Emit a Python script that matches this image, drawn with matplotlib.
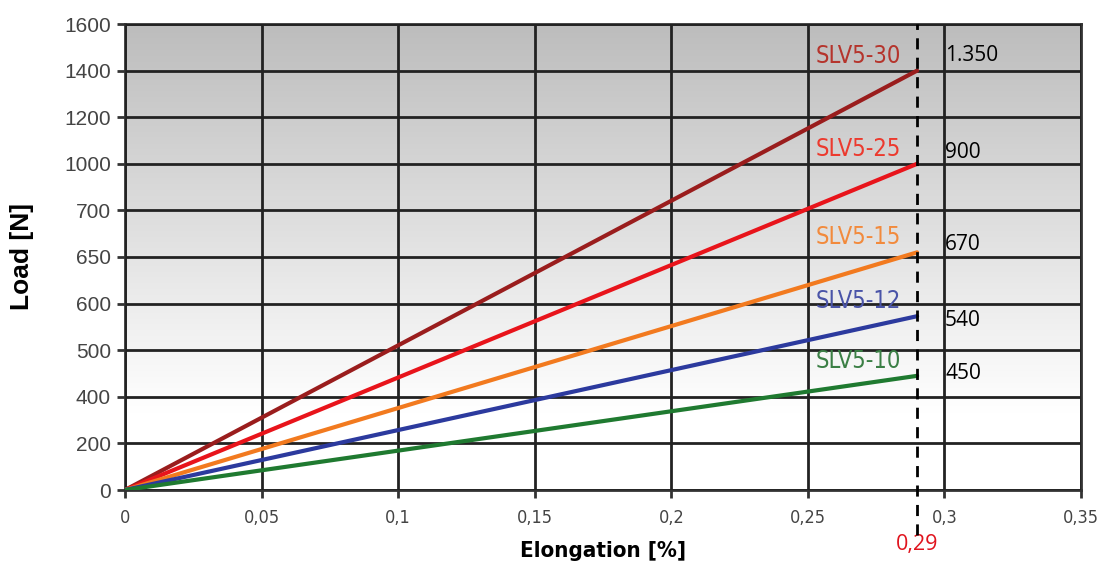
import numpy as np
import matplotlib
matplotlib.use("Agg")
from matplotlib import pyplot as plt
from matplotlib import transforms

# data
load_ticks = [0, 200, 400, 500, 600, 650, 700, 1000, 1200, 1400, 1600]
x_ticks = [0, 0.05, 0.1, 0.15, 0.2, 0.25, 0.3, 0.35]
x_ticklabels = ['0', '0,05', '0,1', '0,15', '0,2', '0,25', '0,3', '0,35']
series = ['SLV5-30', 'SLV5-25', 'SLV5-15', 'SLV5-12', 'SLV5-10']
elong = [0, 0.29]
end_load = [1400, 1000, 655, 573, 445]
value_labels = ['1.350', '900', '670', '540', '450']
colors = ['#9a1d1d', '#e8141b', '#f27a1f', '#2c3a9e', '#1f7a30']
label_colors = ['#b5342c', '#ec3a2e', '#f28a3c', '#4a54a8', '#3b7f45']

pos = np.arange(len(load_ticks))


def fwd(y):
    return np.interp(y, load_ticks, pos)


def inv(p):
    return np.interp(p, pos, load_ticks)


fig = plt.figure(figsize=(11, 5.67), dpi=100)
ax = fig.add_axes([125 / 1100, 1 - 490 / 567, 956 / 1100, 466 / 567])
ax.set_yscale('function', functions=(fwd, inv))
ax.set_xlim(0, 0.35)
ax.set_ylim(0, 1600)

# background gradient, grey at the top fading to white near the bottom
grad = np.linspace(0, 1, 256).reshape(-1, 1)
shade = np.clip(grad * 1.2, 0, 1)
bg = 0.74 + (1 - 0.74) * shade
ax.imshow(np.dstack([bg, bg, bg]), extent=[0, 1, 0, 1], transform=ax.transAxes,
          aspect='auto', origin='upper', zorder=0)

ax.set_yticks(load_ticks)
ax.set_yticklabels([str(v) for v in load_ticks])
ax.set_xticks(x_ticks)
ax.set_xticklabels(x_ticklabels)
ax.grid(True, color='#222222', linewidth=2, zorder=1)
ax.set_axisbelow(False)
for s in ax.spines.values():
    s.set_color('#333333')
    s.set_linewidth(2)
ax.tick_params(direction='out', length=6, width=2, color='#333333', labelcolor='#444444')
ax.tick_params(axis='y', labelsize=15, pad=4)
ax.tick_params(axis='x', labelsize=13, pad=8)
for lab in ax.get_yticklabels():
    lab.set_fontfamily('Liberation Sans')
for lab in ax.get_xticklabels():
    lab.set_fontfamily('DejaVu Sans')
    lab.set_fontstretch('condensed')

val_dy = [15, 11, 8, -4, 2]
for name, yend, c, lc, vl, dy in zip(series, end_load, colors, label_colors, value_labels, val_dy):
    ax.plot(elong, [0, yend], color=c, linewidth=3, solid_capstyle='round', zorder=3)
    ax.annotate(name, (elong[1], yend), xytext=(-16, 3), textcoords='offset pixels',
                ha='right', va='bottom', color=lc, fontsize=17,
                family='DejaVu Sans', fontstretch='condensed')
    ax.annotate(vl, (elong[1], yend), xytext=(28, dy), textcoords='offset pixels',
                ha='left', va='center', color='black', fontsize=15,
                family=['Open Sans', 'DejaVu Sans'], annotation_clip=False)

trans = transforms.blended_transform_factory(ax.transData, ax.transAxes)
ax.plot([0.29, 0.29], [-0.097, 1], transform=trans, color='black', linewidth=2,
        linestyle=(0, (4, 3)), clip_on=False, zorder=4)
ax.text(0.29, -0.095, '0,29', transform=trans, ha='center', va='top', color='#e0141e',
        fontsize=15.5, family=['Open Sans', 'DejaVu Sans'])

ax.set_xlabel('Elongation [%]', fontsize=16, fontweight='bold',
              family='DejaVu Sans', fontstretch='condensed', labelpad=10)
ax.set_ylabel('Load [N]', fontsize=19, fontweight='bold', labelpad=22,
              family=['Liberation Sans', 'DejaVu Sans'])

fig.savefig('out.png', dpi=100)
